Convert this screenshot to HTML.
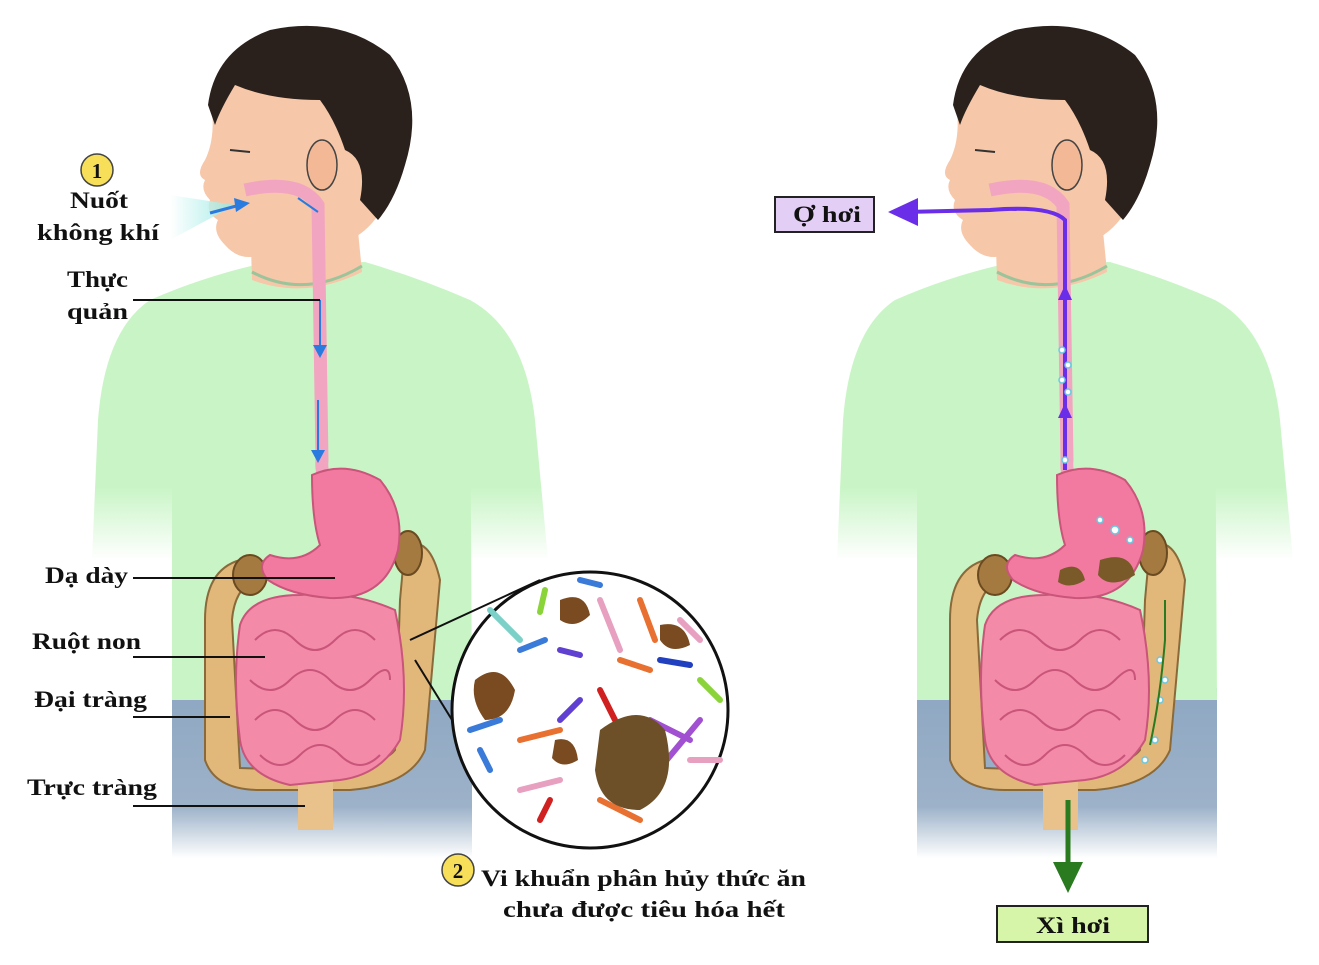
<!DOCTYPE html>
<html><head><meta charset="utf-8"><style>
html,body{margin:0;padding:0;background:#fff}
svg{display:block}
text{font-family:"Liberation Serif",serif;font-weight:bold;fill:#111}
</style></head><body>
<svg width="1319" height="965" viewBox="0 0 1319 965" xmlns="http://www.w3.org/2000/svg">
<defs>
<linearGradient id="armfade" x1="0" y1="0" x2="0" y2="1">
<stop offset="0" stop-color="#c9f5c6"/><stop offset="0.72" stop-color="#c9f5c6"/><stop offset="1" stop-color="#fff"/></linearGradient>
<linearGradient id="pantfade" x1="0" y1="0" x2="0" y2="1">
<stop offset="0" stop-color="#8ea7c2"/><stop offset="0.7" stop-color="#9db2c9"/><stop offset="1" stop-color="#fff"/></linearGradient>
<linearGradient id="air" x1="0" y1="0" x2="1" y2="0">
<stop offset="0" stop-color="#fff"/><stop offset="1" stop-color="#8fe8e0"/></linearGradient>
<g id="body">
 <rect x="172" y="688" width="300" height="170" fill="url(#pantfade)"/>
 <path d="M150 300 Q105 330 98 420 L92 560 L172 560 L172 330 Z" fill="url(#armfade)"/>
 <path d="M470 300 Q525 330 535 420 L548 560 L468 560 L468 330 Z" fill="url(#armfade)"/>
 <path d="M255 265 Q200 278 150 300 L172 340 L172 700 L472 700 L470 340 L470 300 Q420 278 365 262 Z" fill="#c9f5c6"/>
 <path d="M250 215 L252 280 Q305 300 362 272 L355 200 Z" fill="#f6c7a8"/>
 <path d="M252 272 Q305 300 362 266" fill="none" stroke="#9bc49a" stroke-width="3"/>
 <path d="M215 80 Q260 45 330 60 Q395 90 395 160 Q390 220 350 240 L260 255 Q240 262 225 245 Q212 232 218 220 Q205 212 210 200 Q200 190 205 180 Q195 175 205 160 Q215 140 212 110 Z" fill="#f6c7a8"/>
 <path d="M208 105 Q215 50 270 30 Q340 15 390 55 Q425 100 405 165 Q395 200 378 220 L360 200 Q368 160 345 150 Q335 120 320 100 Q270 100 235 85 Q220 110 215 125 Z" fill="#2b211c"/>
 <ellipse cx="322" cy="165" rx="15" ry="25" fill="#f3b996" stroke="#444" stroke-width="1.5"/>
 <path d="M230 150 L250 152" stroke="#333" stroke-width="2"/>
 <path d="M240 560 Q205 570 205 620 L205 760 Q215 790 260 790 L350 790 Q410 785 425 750 L440 580 Q430 535 405 545 L400 600 L395 750 Q380 770 300 770 L240 768 L232 620 Q235 585 260 578 Z" fill="#e2b77a" stroke="#8a6a3a" stroke-width="2"/>
 <ellipse cx="250" cy="575" rx="17" ry="20" fill="#a57a40" stroke="#6a4a20" stroke-width="2"/>
 <ellipse cx="408" cy="553" rx="14" ry="22" fill="#a57a40" stroke="#6a4a20" stroke-width="2"/>
 <rect x="298" y="775" width="35" height="55" fill="#e8c28a"/>
 <path d="M240 625 Q250 595 300 595 Q350 590 395 610 Q410 680 400 740 Q380 775 340 780 L290 785 Q245 775 240 740 Q232 680 240 625 Z" fill="#f28aa8" stroke="#c9557a" stroke-width="2"/>
 <path d="M255 640 q20 -20 40 0 t40 0 t40 0 M250 680 q20 20 40 0 t40 0 t40 0 t20 0 M255 720 q20 -20 40 0 t40 0 t40 0 M260 755 q20 20 40 0 t40 0 t40 0" fill="none" stroke="#c9557a" stroke-width="2"/>
 <path d="M245 190 Q300 178 318 205 L322 460 Q320 480 335 485" fill="none" stroke="#f2a5c0" stroke-width="13"/>
 <path d="M312 475 Q345 460 380 480 Q405 510 398 550 Q385 600 330 598 Q290 595 268 580 Q255 565 270 555 Q300 565 320 545 Q312 520 312 475 Z" fill="#f27aa0" stroke="#c9557a" stroke-width="2"/>
</g>
</defs>

<use href="#body"/>
<use href="#body" transform="translate(745,0)"/>

<path d="M170 195 L235 205 L170 240 Z" fill="url(#air)" opacity="0.8"/>
<path d="M210 213 L240 205" stroke="#2a7be0" stroke-width="3"/>
<polygon points="250,203 234,198 236,212" fill="#2a7be0"/>
<path d="M320 300 L320 350 M318 400 L318 455" stroke="#2a7be0" stroke-width="2"/>
<polygon points="313,345 327,345 320,358" fill="#2a7be0"/>
<polygon points="311,450 325,450 318,463" fill="#2a7be0"/>
<path d="M298 198 L318 212" stroke="#2a7be0" stroke-width="2"/>

<circle cx="97" cy="170" r="16" fill="#f7df5a" stroke="#444" stroke-width="1.5"/>
<text x="97" y="178" font-size="21" text-anchor="middle">1</text>
<text x="70" y="208" font-size="23" textLength="58" lengthAdjust="spacingAndGlyphs">Nuốt</text>
<text x="37" y="240" font-size="23" textLength="122" lengthAdjust="spacingAndGlyphs">không khí</text>
<text x="67" y="287" font-size="23" textLength="61" lengthAdjust="spacingAndGlyphs">Thực</text>
<text x="67" y="319" font-size="23" textLength="61" lengthAdjust="spacingAndGlyphs">quản</text>
<line x1="133" y1="300" x2="320" y2="300" stroke="#111" stroke-width="2"/>
<text x="45" y="583" font-size="23" textLength="83" lengthAdjust="spacingAndGlyphs">Dạ dày</text>
<line x1="133" y1="578" x2="335" y2="578" stroke="#111" stroke-width="2"/>
<text x="32" y="649" font-size="23" textLength="109" lengthAdjust="spacingAndGlyphs">Ruột non</text>
<line x1="133" y1="657" x2="265" y2="657" stroke="#111" stroke-width="2"/>
<text x="34" y="707" font-size="23" textLength="113" lengthAdjust="spacingAndGlyphs">Đại tràng</text>
<line x1="133" y1="717" x2="230" y2="717" stroke="#111" stroke-width="2"/>
<text x="27" y="795" font-size="23" textLength="130" lengthAdjust="spacingAndGlyphs">Trực tràng</text>
<line x1="133" y1="806" x2="305" y2="806" stroke="#111" stroke-width="2"/>

<line x1="410" y1="640" x2="540" y2="580" stroke="#111" stroke-width="2"/>
<line x1="415" y1="660" x2="520" y2="830" stroke="#111" stroke-width="2"/>
<circle cx="590" cy="710" r="138" fill="#fff" stroke="#111" stroke-width="3"/>
<g stroke-width="6" stroke-linecap="round" fill="none">
<path d="M490 610 L520 640" stroke="#7bd0c8"/><path d="M545 590 L540 612" stroke="#8ad43a"/>
<path d="M600 600 L620 650" stroke="#e8a0c0"/><path d="M640 600 L655 640" stroke="#e87030"/>
<path d="M520 650 L545 640" stroke="#3a7ad8"/><path d="M560 650 L580 655" stroke="#6040d0"/>
<path d="M620 660 L650 670" stroke="#e87030"/><path d="M660 660 L690 665" stroke="#2040c0"/>
<path d="M700 680 L720 700" stroke="#8ad43a"/><path d="M470 730 L500 720" stroke="#3a7ad8"/>
<path d="M520 740 L560 730" stroke="#e87030"/><path d="M600 690 L615 720" stroke="#d02020"/>
<path d="M650 720 L690 740" stroke="#a050d0"/><path d="M690 760 L720 760" stroke="#e8a0c0"/>
<path d="M520 790 L560 780" stroke="#e8a0c0"/><path d="M600 800 L640 820" stroke="#e87030"/>
<path d="M560 720 L580 700" stroke="#6040d0"/><path d="M480 750 L490 770" stroke="#3a7ad8"/>
<path d="M650 780 L700 720" stroke="#a050d0"/><path d="M540 820 L550 800" stroke="#d02020"/>
<path d="M680 620 L700 640" stroke="#e8a0c0"/><path d="M580 580 L600 585" stroke="#3a7ad8"/>
</g>
<path d="M475 680 Q500 660 515 690 Q510 720 485 720 Q470 700 475 680Z" fill="#7a4a20"/>
<path d="M600 730 Q640 700 665 730 Q680 790 640 810 Q600 810 595 770 Z" fill="#6e5028"/>
<path d="M560 600 Q585 590 590 615 Q575 630 560 620Z" fill="#7a4a20"/>
<path d="M660 625 Q685 620 690 645 Q670 655 660 640Z" fill="#7a4a20"/>
<path d="M555 740 Q575 735 578 760 Q562 770 552 758Z" fill="#7a4a20"/>

<circle cx="458" cy="870" r="16" fill="#f7df5a" stroke="#444" stroke-width="1.5"/>
<text x="458" y="878" font-size="21" text-anchor="middle">2</text>
<text x="481" y="886" font-size="23" textLength="325" lengthAdjust="spacingAndGlyphs">Vi khuẩn phân hủy thức ăn</text>
<text x="503" y="917" font-size="23" textLength="282" lengthAdjust="spacingAndGlyphs">chưa được tiêu hóa hết</text>

<path d="M1065 470 L1065 220 Q1050 205 990 210 L905 212" fill="none" stroke="#6a2ee8" stroke-width="4"/>
<polygon points="888,212 918,198 918,226" fill="#6a2ee8"/>
<polygon points="1058,300 1072,300 1065,285" fill="#6a2ee8"/>
<polygon points="1058,418 1072,418 1065,403" fill="#6a2ee8"/>
<g fill="#fff" stroke="#6ac8e0" stroke-width="1.5">
<circle cx="1062" cy="350" r="3"/><circle cx="1068" cy="365" r="3"/><circle cx="1062" cy="380" r="3"/><circle cx="1068" cy="392" r="3"/>
<circle cx="1065" cy="460" r="3"/><circle cx="1100" cy="520" r="3"/><circle cx="1115" cy="530" r="4"/><circle cx="1130" cy="540" r="3"/>
<circle cx="1160" cy="660" r="3"/><circle cx="1165" cy="680" r="3"/><circle cx="1160" cy="700" r="3"/><circle cx="1155" cy="740" r="3"/><circle cx="1145" cy="760" r="3"/>
</g>
<path d="M1060 570 Q1080 560 1085 580 Q1070 590 1058 582Z M1100 560 Q1130 550 1135 575 Q1110 590 1098 575Z" fill="#7a5a28"/>
<path d="M1165 600 L1165 640 Q1160 700 1150 745" fill="none" stroke="#2a7a20" stroke-width="2"/>
<path d="M1068 800 L1068 870" stroke="#2a7a20" stroke-width="5"/>
<polygon points="1053,862 1083,862 1068,893" fill="#2a7a20"/>
<rect x="775" y="197" width="99" height="35" fill="#e3cef5" stroke="#222" stroke-width="2"/>
<text x="793" y="222" font-size="23" textLength="68" lengthAdjust="spacingAndGlyphs">Ợ hơi</text>
<rect x="997" y="906" width="151" height="36" fill="#d6f5a8" stroke="#222" stroke-width="2"/>
<text x="1036" y="933" font-size="23" textLength="74" lengthAdjust="spacingAndGlyphs">Xì hơi</text>
</svg>
</body></html>
